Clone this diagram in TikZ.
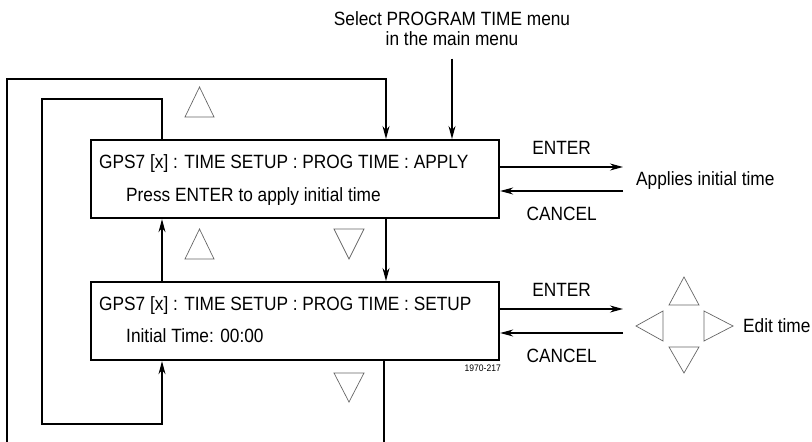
\documentclass[tikz,border=0pt]{standalone}
\usepackage{fontspec}
\setmainfont{Liberation Sans}[FakeStretch=0.9]
\usetikzlibrary{arrows.meta,calc,positioning}

\begin{document}
\begin{tikzpicture}[
    x=1pt, y=-1pt,
    >={Stealth[length=13pt,width=7pt]},
    every node/.style={font=\fontsize{19.2}{20}\selectfont, inner sep=0pt},
    boxtext/.style={anchor=base west},
    menubox/.style={rectangle, draw, line width=2.2pt, minimum width=408pt, minimum height=78pt, anchor=north west},
    flow/.style={line width=1.2pt},
    tri/.style={draw=black!60, line width=0.7pt},
    small/.style={font=\fontsize{9.5}{10}\selectfont}
    ]
    \useasboundingbox (0,0) rectangle (812,442);
    % Menu boxes
    \node[menubox] (apply) at (90,139) {};
    \node[boxtext] (applyTitle) at ($(apply.north west)+(9,29.5)$) {GPS7 [x] : TIME SETUP : PROG TIME : APPLY};
    \node[boxtext] (applyText) at ($(apply.north west)+(36,62)$) {Press ENTER to apply initial time};
    \node[menubox] (setup) at (90,281) {};
    \node[boxtext] (setupTitle) at ($(setup.north west)+(9,29)$) {GPS7 [x] : TIME SETUP : PROG TIME : SETUP};
    \node[boxtext] (setupText) at ($(setup.north west)+(36,61.5)$) {Initial Time: 00:00};
    \node[small, anchor=base east] (figno) at (501,371) {1970-217};
    % Entry from the main menu
    \node[align=center, anchor=north] (menu) at (452,11) {Select PROGRAM TIME menu\\in the main menu};
    \draw[flow,->,shorten <=13pt] (menu.south) -- (menu.south |- apply.north);
    % Loops
    \coordinate (outerBL) at (7,442);
    \coordinate (outerTR) at (386,79);
    \coordinate (outerBR) at (384,442);
    \coordinate (innerTR) at (162,99);
    \coordinate (innerBL) at (42,424);
    \draw[flow,->] (outerBL) |- (outerTR) -- (outerTR |- apply.north);
    \draw[flow,->] (apply.north -| innerTR) -- (innerTR) -| (innerBL) -| (setup.south -| innerTR);
    \draw[flow,->] (setup.north -| innerTR) -- (apply.south -| innerTR);
    \draw[flow,->] (apply.south -| outerTR) -- (setup.north -| outerTR);
    \draw[flow] (setup.south -| outerBR) -- (outerBR);
    % Arrow keys on the left
    \draw[tri] (185,117) -- (199.5,87) -- (214,117) -- cycle;
    \draw[tri] (185,259) -- (199.5,229) -- (214,259) -- cycle;
    \draw[tri] (334,229) -- (349,259) -- (364,229) -- cycle;
    \draw[tri] (334,373) -- (349,402) -- (364,373) -- cycle;
    % ENTER / CANCEL for APPLY
    \coordinate (applyOK) at (623,167);
    \coordinate (applyBack) at (623,191);
    \draw[flow,->] (apply.east |- applyOK) -- node[above=12pt] {ENTER} (applyOK);
    \draw[flow,->] (applyBack) -- node[below=15pt] {CANCEL} (apply.east |- applyBack);
    \node[anchor=base west] (applyRes) at (636,185) {Applies initial time};
    % ENTER / CANCEL for SETUP
    \coordinate (setupOK) at (623,309);
    \coordinate (setupBack) at (623,333);
    \draw[flow,->] (setup.east |- setupOK) -- node[above=12pt] {ENTER} (setupOK);
    \draw[flow,->] (setupBack) -- node[below=15pt] {CANCEL} (setup.east |- setupBack);
    % Edit pad
    \draw[tri] (669,305) -- (684,277) -- (699,305) -- cycle;
    \draw[tri] (669,347) -- (684,373) -- (699,347) -- cycle;
    \draw[tri] (663,311) -- (636,326) -- (663,341) -- cycle;
    \draw[tri] (704,311) -- (733,326) -- (704,341) -- cycle;
    \node[anchor=base west] (editRes) at (743,332) {Edit time};
\end{tikzpicture}
\end{document}
